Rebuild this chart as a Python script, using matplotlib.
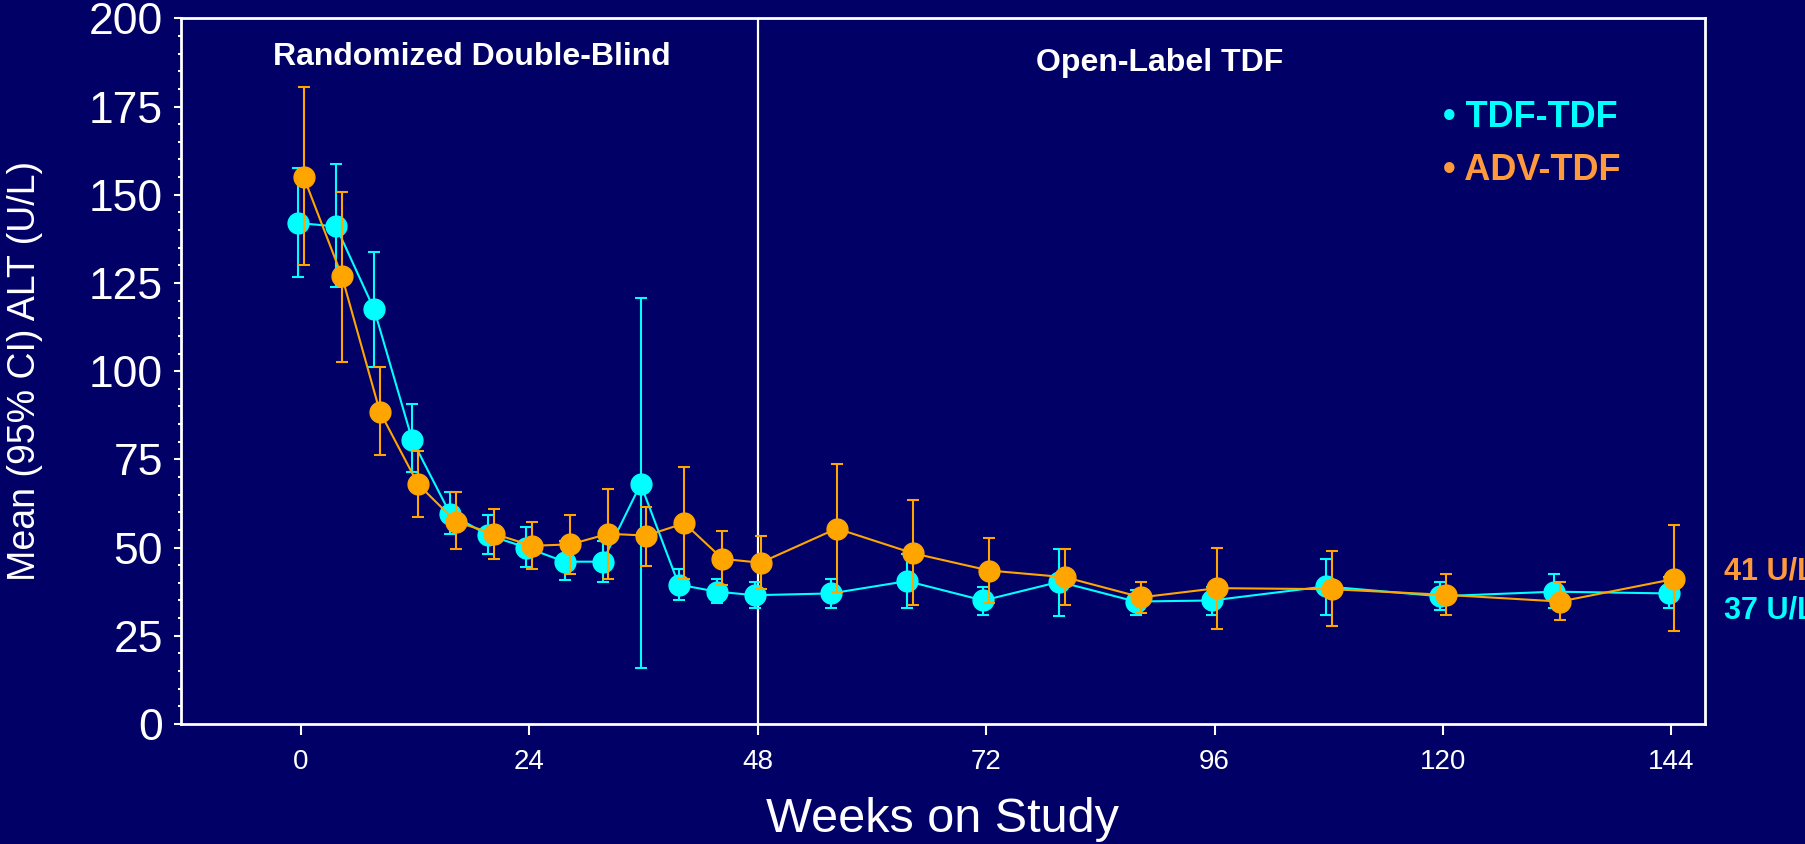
import matplotlib.pyplot as plt
import numpy as np
from matplotlib.ticker import MultipleLocator

# datos
weeks = [0, 4, 8, 12, 16, 20, 24, 28, 32, 36, 40, 44, 48, 56, 64, 72, 80, 88, 96, 108, 120, 132, 144]
tdf_mean = [142, 141, 117.5, 80.5, 59.5, 53.5, 50, 46, 46, 68, 39.5, 37.5, 36.5, 37, 40.5, 35, 40.3, 34.7, 35, 39, 36.2, 37.5, 37]
tdf_hi = [157.5, 158.7, 133.7, 90.7, 65.7, 59.2, 55.9, 51.9, 51.9, 120.8, 43.9, 41.1, 40.2, 41.1, 48.2, 38.7, 49.5, 38.0, 38.7, 46.8, 40.3, 42.5, 41.6]
tdf_lo = [126.8, 123.8, 101.3, 71.3, 53.8, 48.2, 44.5, 40.7, 40.3, 15.8, 35.1, 34.2, 32.8, 32.8, 32.8, 30.9, 30.6, 30.9, 30.9, 30.9, 32.3, 32.8, 32.8]
adv_mean = [155, 127, 88.5, 68, 57.3, 53.9, 50.5, 50.9, 53.9, 53.4, 56.9, 46.8, 45.7, 55.4, 48.4, 43.5, 41.6, 35.9, 38.5, 38.2, 36.6, 34.7, 41.1]
adv_hi = [180.5, 150.8, 101.3, 77.4, 65.7, 61.0, 57.3, 59.2, 66.6, 61.5, 72.7, 54.7, 53.3, 73.6, 63.4, 52.7, 49.5, 40.2, 50.0, 49.0, 42.5, 40.2, 56.4]
adv_lo = [130.0, 102.7, 76.3, 58.8, 49.5, 46.8, 43.9, 42.6, 41.1, 44.9, 41.1, 39.4, 38.3, 37.4, 33.7, 34.2, 33.7, 31.5, 26.8, 27.8, 30.9, 29.5, 26.4]
xticks = [0, 24, 48, 72, 96, 120, 144]

bg = '#000066'
cyan = '#00FFFF'
orange = '#FFA500'
orange_txt = '#FF9A3C'

plt.rcParams['font.family'] = ['Liberation Sans', 'DejaVu Sans']

fig = plt.figure(figsize=(18.06, 8.44), dpi=100, facecolor=bg)
ax = fig.add_axes([0.1002, 0.1422, 0.8437, 0.8361])
ax.set_facecolor(bg)

w = np.array(weeks)
tm, th, tl = np.array(tdf_mean), np.array(tdf_hi), np.array(tdf_lo)
am, ah, al = np.array(adv_mean), np.array(adv_hi), np.array(adv_lo)

# linea divisoria en la semana 48
ax.axvline(48, color='white', lw=1.6, zorder=1)

ax.errorbar(w - 0.3, tm, yerr=[tm - tl, th - tm], fmt='o-', color=cyan, ms=15,
            lw=1.5, elinewidth=1.5, capsize=4, capthick=1.5, zorder=3)
ax.errorbar(w + 0.3, am, yerr=[am - al, ah - am], fmt='o-', color=orange, ms=15,
            lw=1.5, elinewidth=1.5, capsize=4, capthick=1.5, zorder=4)

ax.set_xlim(-12.6, 147.5)
ax.set_ylim(0, 200)
ax.set_xticks(xticks)
ax.yaxis.set_major_locator(MultipleLocator(25))
ax.yaxis.set_minor_locator(MultipleLocator(5))

for s in ax.spines.values():
    s.set_color('white')
    s.set_linewidth(2)

ax.tick_params(axis='x', colors='white', labelsize=20, length=8, width=1.5, pad=10)
ax.tick_params(axis='y', which='major', colors='white', labelsize=32, length=5, width=1.5, pad=8)
ax.tick_params(axis='y', which='minor', colors='white', length=2.5, width=1.5)

ax.set_xlabel('Weeks on Study', color='white', fontsize=35, labelpad=16)
ax.set_ylabel('Mean (95% CI) ALT (U/L)', color='white', fontsize=27)
ax.yaxis.set_label_coords(-0.0906, 0.5)

ax.text(18, 189, 'Randomized Double-Blind', color='white', fontsize=23,
        fontweight='bold', ha='center', va='center')
ax.text(90.2, 187.4, 'Open-Label TDF', color='white', fontsize=23,
        fontweight='bold', ha='center', va='center')

ax.text(120, 172, '\u2022 TDF-TDF', color=cyan, fontsize=26, fontweight='bold', va='center')
ax.text(120, 157, '\u2022 ADV-TDF', color=orange_txt, fontsize=26, fontweight='bold', va='center')

tr = ax.get_yaxis_transform()
ax.text(1.013, 43.2, '41 U/L', color=orange_txt, fontsize=22, fontweight='bold',
        va='center', transform=tr, clip_on=False)
ax.text(1.013, 32.3, '37 U/L', color=cyan, fontsize=22, fontweight='bold',
        va='center', transform=tr, clip_on=False)

fig.savefig('out.png', dpi=100, facecolor=bg)
